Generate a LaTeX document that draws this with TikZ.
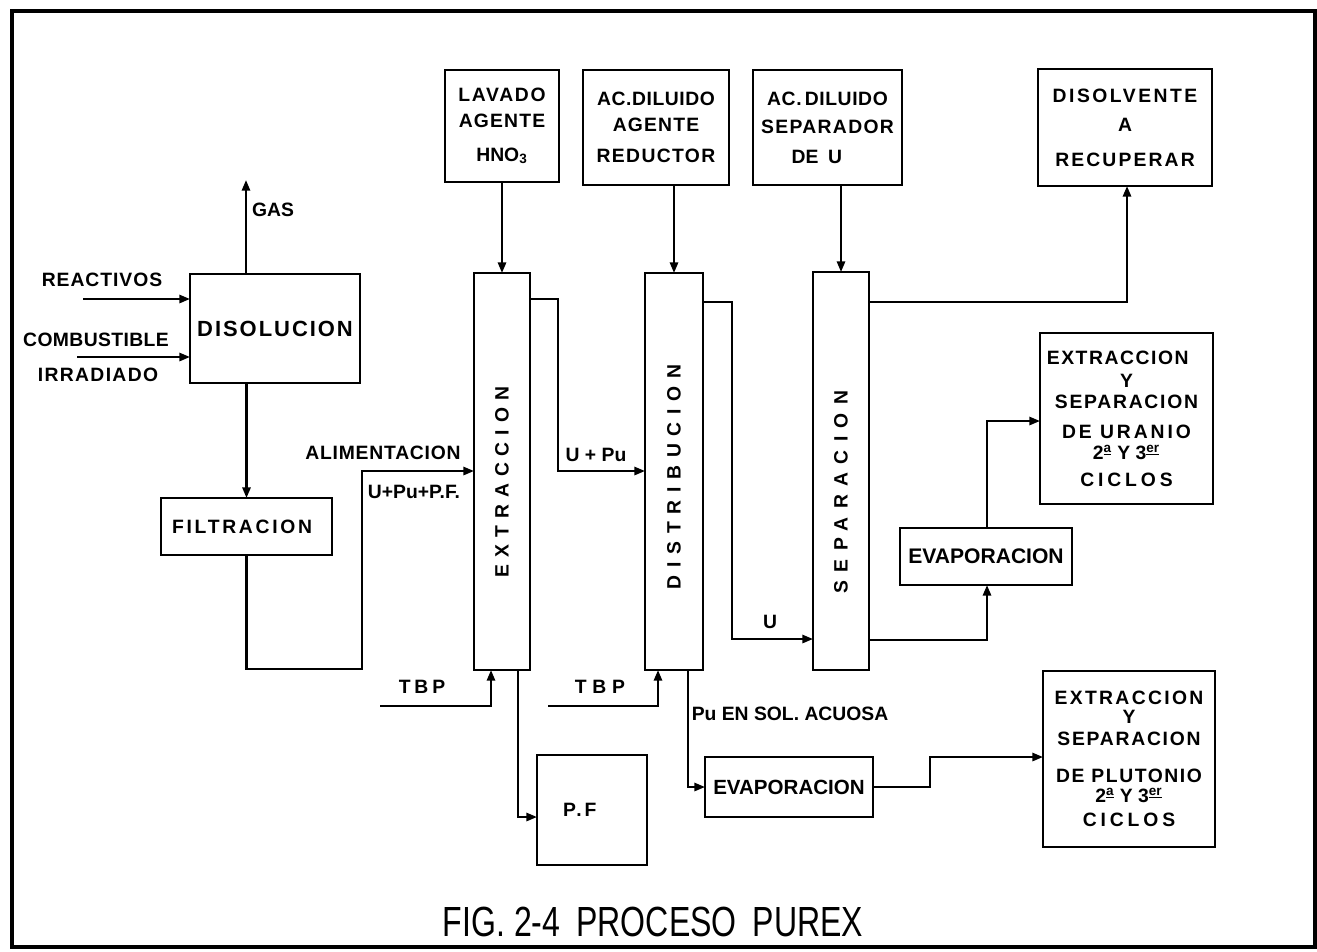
\documentclass[tikz,border=0pt]{standalone}
\usepackage{fontspec}
\usepackage{graphicx}
\setmainfont{Liberation Sans}
\usetikzlibrary{arrows.meta}
\newcommand\lblf{\fontsize{11}{13}\selectfont\bfseries}
\newcommand\lsp[1]{\addfontfeature{LetterSpace=#1}}
\tikzset{
  box/.style={draw, line width=1.5pt, inner sep=0pt, outer sep=0pt, align=center, font=\lblf},
  wh/.style 2 args={minimum width=#1*0.02cm, minimum height=#2*0.02cm},
  txt/.style={inner sep=0pt, outer sep=0pt, font=\lblf},
  arr/.style={line width=1.3pt, line join=miter, -{Triangle[length=6pt,width=4.6pt]}},
  frame/.style={line width=2.4pt},
  ttl/.style={inner sep=0pt, font=\fontsize{24}{28}\selectfont\mdseries},
}
\begin{document}
\begin{tikzpicture}[x=0.02cm,y=-0.02cm]
\useasboundingbox (0,0) rectangle (1317,951);
\draw[frame] (12,11) rectangle (1315,947);

% boxes
\node[box, wh={170}{109}] (dis) at (275,328.5) {{\fontsize{12.5}{14}\selectfont\lsp{9}DISOLUCION}};
\node[box, wh={171}{57}] (fil) at (246.5,526.5) {{\lsp{14}FILTRACION}\hspace*{5pt}};
\node[box, wh={56}{397}] (ext) at (502,471.5) {\rotatebox{90}{{\lsp{36}EXTRACCION}\hspace*{12pt}}};
\node[box, wh={58}{397}] (dist) at (674,471.5) {\rotatebox{90}{{\lsp{40}DISTRIBUCION}\hspace*{6pt}}};
\node[box, wh={56}{398}] (sep) at (841,471) {\rotatebox{90}{{\lsp{43}SEPARACION}\hspace*{24pt}}};
\node[box, wh={114}{112}] (lav) at (502,126) {{\lsp{9}LAVADO}\\[2pt]{\lsp{6}AGENTE}\\[6pt]HNO\textsubscript{3}};
\node[box, wh={146}{115}] (red) at (656,127.5) {{\lsp{3}AC.DILUIDO}\\[2pt]{\lsp{6}AGENTE}\\[4.5pt]{\lsp{7}REDUCTOR}};
\node[box, wh={149}{115}] (sepu) at (827.5,127.5) {{\lsp{3}AC.\,DILUIDO}\\[3pt]{\lsp{7}SEPARADOR}\\[4pt]DE\enspace U\hspace*{12pt}};
\node[box, wh={174}{117}] (disv) at (1125,127.5) {{\lsp{13}DISOLVENTE}\\[3.5pt]A\\[7pt]{\lsp{11}RECUPERAR}};
\node[box, wh={173}{171}] (ura) at (1126.5,418.5) {{\lsp{8}EXTRACCION}\hspace*{10pt}\\[0pt]Y\\[-1pt]{\lsp{9}SEPARACION}\\[4pt]{\lsp{15}DE URANIO}\\[-1pt]2\textsuperscript{\underline{a}} Y 3\textsuperscript{\underline{er}}\hspace*{20pt}\\[2.3pt]{\lsp{20}CICLOS}};
\node[box, wh={172}{176}] (plu) at (1129,759) {{\lsp{12}EXTRACCION}\\[-2.2pt]Y\\[-0.5pt]{\lsp{9}SEPARACION}\\[8pt]{\lsp{8}DE PLUTONIO}\\[-1.7pt]2\textsuperscript{\underline{a}} Y 3\textsuperscript{\underline{er}}\\[1.2pt]{\lsp{20}CICLOS}};
\node[box, wh={172}{57}] (evu) at (986,556.5) {{\fontsize{12}{14}\selectfont EVAPORACION}};
\node[box, wh={168}{60}] (evp) at (789,787) {{\fontsize{11.7}{14}\selectfont EVAPORACION}};
\node[box, wh={110}{110}] (pf) at (592,810) {{\lsp{15}P.F}\hspace*{14pt}};

% free labels
\node[txt] (lgas) at (273,210) {GAS};
\node[txt] (lreac) at (102,280) {\lsp{5}REACTIVOS};
\node[txt] (lcomb) at (96,340) {\lsp{2}COMBUSTIBLE};
\node[txt] (lirr) at (98,375) {\lsp{7}IRRADIADO};
\node[txt] (lali) at (383,453) {\lsp{4}ALIMENTACION};
\node[txt] (lupf) at (414,492) {U+Pu+P.F.};
\node[txt] (lupu) at (596,455) {U + Pu};
\node[txt] (lu) at (770,622) {U};
\node[txt] (ltbp1) at (422,687) {\lsp{20}TBP};
\node[txt] (ltbp2) at (600,687) {\lsp{30}TBP};
\node[txt] (lpu) at (790,714) {Pu EN SOL. ACUOSA};
\node[ttl] (title) at (653,922) {\scalebox{0.76}[1]{FIG. 2-4\enspace PROCESO\enspace PUREX}};

% connectors
\coordinate (gasend) at (246,180);
\draw[arr] (gasend |- dis.north) -- (gasend);
\coordinate (reac) at (83,299);
\draw[arr] (reac) -- (reac -| dis.west);
\coordinate (comb) at (77,357);
\draw[arr] (comb) -- (comb -| dis.west);
\draw[arr] (dis.south -| fil.north) -- (fil.north);
\coordinate (f1) at (362,669);
\coordinate (f2) at (362,471);
\draw[arr] (fil.south) |- (f1) -- (f2) -- (f2 -| ext.west);
\draw[arr] (lav.south) -- (lav.south |- ext.north);
\draw[arr] (dist.north |- red.south) -- (dist.north);
\draw[arr] (sep.north |- sepu.south) -- (sep.north);
\coordinate (e1) at (558,299);
\coordinate (e2) at (558,471);
\draw[arr] (e1 -| ext.east) -- (e1) -- (e2) -- (e2 -| dist.west);
\coordinate (d1) at (732,302);
\coordinate (d2) at (732,639);
\draw[arr] (d1 -| dist.east) -- (d1) -- (d2) -- (d2 -| sep.west);
\coordinate (s1) at (1127,302);
\draw[arr] (s1 -| sep.east) -- (s1) -- (s1 |- disv.south);
\coordinate (s2) at (987,640);
\draw[arr] (s2 -| sep.east) -- (s2) -- (s2 |- evu.south);
\coordinate (u1) at (987,421);
\draw[arr] (u1 |- evu.north) -- (u1) -- (u1 -| ura.west);
\coordinate (t1) at (380,706);
\coordinate (t1b) at (491,706);
\draw[arr] (t1) -- (t1b) -- (t1b |- ext.south);
\coordinate (t2) at (548,706);
\coordinate (t2b) at (658,706);
\draw[arr] (t2) -- (t2b) -- (t2b |- dist.south);
\coordinate (p1) at (518,817);
\draw[arr] (p1 |- ext.south) -- (p1) -- (p1 -| pf.west);
\coordinate (q1) at (688,787);
\draw[arr] (q1 |- dist.south) -- (q1) -- (evp.west);
\coordinate (r1) at (930,787);
\coordinate (r2) at (930,757);
\draw[arr] (evp.east) -- (r1) -- (r2) -- (r2 -| plu.west);
\end{tikzpicture}
\end{document}
